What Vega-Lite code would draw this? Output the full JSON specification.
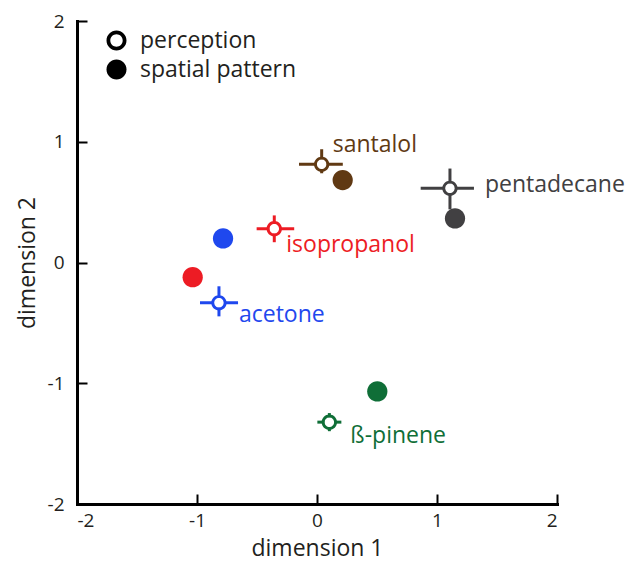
{
  "$schema": "https://vega.github.io/schema/vega-lite/v6.json",
  "width": 480,
  "height": 483,
  "autosize": "none",
  "padding": {"left": 77, "top": 21, "right": 77, "bottom": 57},
  "background": "white",
  "config": {
    "view": {"stroke": null},
    "axis": {
      "grid": false,
      "domainColor": "black",
      "domainWidth": 3,
      "domainCap": "square",
      "tickColor": "black",
      "tickWidth": 2,
      "tickSize": -10,
      "labelFont": "Open Sans",
      "labelFontSize": 19,
      "labelColor": "#231f20",
      "titleFont": "Open Sans",
      "titleFontSize": 23,
      "titleFontWeight": "normal",
      "titleColor": "#231f20"
    }
  },
  "data": {
    "values": [
      {"odorant": "santalol", "type": "perception", "x": 0.039, "y": 0.813, "xlo": -0.15, "xhi": 0.215, "ylo": 0.739, "yhi": 0.938},
      {"odorant": "pentadecane", "type": "perception", "x": 1.108, "y": 0.614, "xlo": 0.864, "xhi": 1.308, "ylo": 0.44, "yhi": 0.778},
      {"odorant": "isopropanol", "type": "perception", "x": -0.356, "y": 0.28, "xlo": -0.503, "xhi": -0.19, "ylo": 0.168, "yhi": 0.39},
      {"odorant": "acetone", "type": "perception", "x": -0.817, "y": -0.334, "xlo": -0.975, "xhi": -0.658, "ylo": -0.446, "yhi": -0.197},
      {"odorant": "ß-pinene", "type": "perception", "x": 0.103, "y": -1.322, "xlo": 0.003, "xhi": 0.203, "ylo": -1.397, "yhi": -1.247},
      {"odorant": "santalol", "type": "spatial pattern", "x": 0.214, "y": 0.683},
      {"odorant": "pentadecane", "type": "spatial pattern", "x": 1.15, "y": 0.365},
      {"odorant": "isopropanol", "type": "spatial pattern", "x": -1.036, "y": -0.122},
      {"odorant": "acetone", "type": "spatial pattern", "x": -0.783, "y": 0.199},
      {"odorant": "ß-pinene", "type": "spatial pattern", "x": 0.5025, "y": -1.068}
    ]
  },
  "encoding": {
    "x": {"field": "x", "type": "quantitative", "scale": {"domain": [-2, 2], "nice": false, "zero": false}, "axis": {"title": "dimension 1", "values": [-2, -1, 0, 1, 2], "labelExpr": "'' + datum.value", "labelPadding": 17, "titlePadding": 7}},
    "y": {"field": "y", "type": "quantitative", "scale": {"domain": [-2, 2], "nice": false, "zero": false}, "axis": {"title": "dimension 2", "values": [-2, -1, 0, 1, 2], "labelExpr": "'' + datum.value", "labelPadding": 23, "titlePadding": 8}}
  },
  "layer": [
    {
      "transform": [{"filter": "datum.type === 'perception'"}],
      "mark": {"type": "rule", "strokeWidth": 3},
      "encoding": {
        "x": {"field": "xlo", "type": "quantitative"},
        "x2": {"field": "xhi"},
        "color": {"field": "odorant", "type": "nominal", "legend": null, "scale": {"domain": ["santalol", "pentadecane", "isopropanol", "acetone", "ß-pinene"], "range": ["#603913", "#414042", "#ed1c24", "#1f48ee", "#0f6e37"]}}
      }
    },
    {
      "transform": [{"filter": "datum.type === 'perception'"}],
      "mark": {"type": "rule", "strokeWidth": 3},
      "encoding": {
        "y": {"field": "ylo", "type": "quantitative"},
        "y2": {"field": "yhi"},
        "color": {"field": "odorant", "type": "nominal", "legend": null}
      }
    },
    {
      "transform": [{"filter": "datum.type === 'perception'"}],
      "mark": {"type": "point", "shape": "circle", "filled": true, "color": "white", "opacity": 1, "size": 100},
      "encoding": {}
    },
    {
      "transform": [{"filter": "datum.type === 'perception'"}],
      "mark": {"type": "point", "filled": true, "opacity": 1, "size": 235},
      "encoding": {
        "color": {"field": "odorant", "type": "nominal", "legend": null},
        "shape": {
          "field": "type", "type": "nominal",
          "scale": {
            "domain": ["perception", "spatial pattern"],
            "range": [
              "M-1,0A1,1,0,1,1,1,0A1,1,0,1,1,-1,0ZM-0.62,0A0.62,0.62,0,1,0,0.62,0A0.62,0.62,0,1,0,-0.62,0Z",
              "M-1,0A1,1,0,1,1,1,0A1,1,0,1,1,-1,0Z"
            ]
          },
          "legend": {
            "title": null,
            "orient": "none",
            "legendX": 28,
            "legendY": 8,
            "padding": 0,
            "symbolSize": 400,
            "symbolFillColor": "black",
            "symbolStrokeColor": "black",
            "symbolStrokeWidth": 0,
            "symbolOpacity": 1,
            "labelFont": "Open Sans",
            "labelFontSize": 23,
            "labelColor": "#231f20",
            "labelOffset": 12,
            "rowPadding": 5
          }
        }
      }
    },
    {
      "transform": [{"filter": "datum.type === 'spatial pattern'"}],
      "mark": {"type": "point", "filled": true, "opacity": 1, "size": 410},
      "encoding": {
        "color": {"field": "odorant", "type": "nominal", "legend": null},
        "shape": {"field": "type", "type": "nominal"}
      }
    },
    {
      "transform": [{"filter": "datum.type === 'perception' && datum.odorant === 'santalol'"}],
      "mark": {"type": "text", "font": "Open Sans", "fontSize": 23, "align": "left", "baseline": "alphabetic", "dx": 11, "dy": -12},
      "encoding": {"text": {"field": "odorant"}, "color": {"field": "odorant", "type": "nominal", "legend": null}}
    },
    {
      "transform": [{"filter": "datum.type === 'perception' && datum.odorant === 'pentadecane'"}],
      "mark": {"type": "text", "font": "Open Sans", "fontSize": 23, "align": "left", "baseline": "alphabetic", "dx": 35, "dy": 4},
      "encoding": {"text": {"field": "odorant"}, "color": {"field": "odorant", "type": "nominal", "legend": null}}
    },
    {
      "transform": [{"filter": "datum.type === 'perception' && datum.odorant === 'isopropanol'"}],
      "mark": {"type": "text", "font": "Open Sans", "fontSize": 23, "align": "left", "baseline": "alphabetic", "dx": 12, "dy": 23},
      "encoding": {"text": {"field": "odorant"}, "color": {"field": "odorant", "type": "nominal", "legend": null}}
    },
    {
      "transform": [{"filter": "datum.type === 'perception' && datum.odorant === 'acetone'"}],
      "mark": {"type": "text", "font": "Open Sans", "fontSize": 23, "align": "left", "baseline": "alphabetic", "dx": 20, "dy": 19},
      "encoding": {"text": {"field": "odorant"}, "color": {"field": "odorant", "type": "nominal", "legend": null}}
    },
    {
      "transform": [{"filter": "datum.type === 'perception' && datum.odorant === 'ß-pinene'"}],
      "mark": {"type": "text", "font": "Open Sans", "fontSize": 23, "align": "left", "baseline": "alphabetic", "dx": 21, "dy": 21},
      "encoding": {"text": {"field": "odorant"}, "color": {"field": "odorant", "type": "nominal", "legend": null}}
    }
  ]
}
